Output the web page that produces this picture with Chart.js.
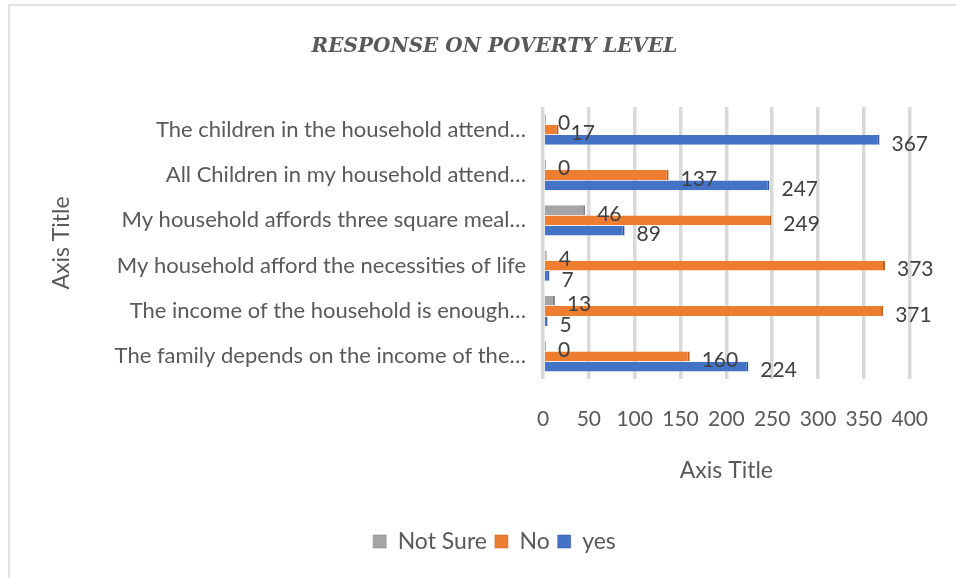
<!DOCTYPE html>
<html><head><meta charset="utf-8">
<script src="https://cdn.jsdelivr.net/npm/chart.js@4"></script>
<style>html,body{margin:0;padding:0;background:#fff}#wrap{width:956px;height:578px}</style>
</head><body><div id="wrap"><canvas id="c" width="956" height="578"></canvas></div>
<script>
const categories = [
  "The children in the household attend\u2026",
  "All Children in my household attend\u2026",
  "My household affords three square meal\u2026",
  "My household afford the necessities of life",
  "The income of the household is enough\u2026",
  "The family depends on the income of the\u2026"
];
const seriesNames = ["Not Sure", "No", "yes"];
const notSure = [0, 0, 46, 4, 13, 0];
const no = [17, 137, 249, 373, 371, 160];
const yes = [367, 247, 89, 7, 5, 224];
const xTickValues = [0, 50, 100, 150, 200, 250, 300, 350, 400];

const colors = ["#A5A5A5", "#ED7D31", "#4472C4"];
const edge = ["#7F7F7F", "#B85F1E", "#2F5597"];
const textColor = "#595959";
const font = "Lato, 'Open Sans', sans-serif";

const borderPlugin = {
  id: 'frame',
  beforeDraw(chart) {
    const ctx = chart.ctx;
    ctx.save();
    ctx.fillStyle = '#fff';
    ctx.fillRect(0, 0, chart.width, chart.height);
    ctx.strokeStyle = '#D9D9D9';
    ctx.lineWidth = 1.5;
    ctx.beginPath();
    ctx.moveTo(9, chart.height);
    ctx.lineTo(9, 5);
    ctx.lineTo(chart.width, 5);
    ctx.stroke();
    ctx.restore();
  }
};

const labelPlugin = {
  id: 'valueLabels',
  afterDatasetsDraw(chart) {
    const ctx = chart.ctx;
    ctx.save();
    ctx.font = "21px " + font;
    ctx.fillStyle = "#404040";
    ctx.textAlign = 'left';
    ctx.textBaseline = 'middle';
    chart.data.datasets.forEach((ds, di) => {
      const meta = chart.getDatasetMeta(di);
      meta.data.forEach((el, i) => {
        ctx.fillText(String(ds.data[i]), el.x + 12, el.y + 4);
      });
    });
    ctx.restore();
  }
};

new Chart(document.getElementById('c'), {
  type: 'bar',
  data: {
    labels: categories,
    datasets: [
      { label: seriesNames[0], data: notSure, backgroundColor: colors[0], borderColor: edge[0], borderWidth: {right: 2}, borderSkipped: false, minBarLength: 3 },
      { label: seriesNames[1], data: no, backgroundColor: colors[1], borderColor: edge[1], borderWidth: {right: 2}, borderSkipped: false },
      { label: seriesNames[2], data: yes, backgroundColor: colors[2], borderColor: edge[2], borderWidth: {right: 2}, borderSkipped: false }
    ]
  },
  options: {
    indexAxis: 'y',
    responsive: false,
    animation: false,
    datasets: { bar: { barPercentage: 0.95, categoryPercentage: 0.68 } },
    layout: { padding: { left: 78, right: 45, top: 0, bottom: 15 } },
    scales: {
      x: {
        min: 0, max: 400,
        afterBuildTicks(scale) { scale.ticks = xTickValues.map(v => ({ value: v })); },
        afterFit(scale) { scale.height = 143; },
        ticks: { color: textColor, font: { family: font, size: 21 }, padding: 28 },
        grid: { color: '#D9D9D9', lineWidth: 3.5, drawTicks: false },
        border: { display: false },
        title: { display: true, text: 'Axis Title', color: textColor, font: { family: font, size: 23 }, padding: { top: 0, bottom: 38 } }
      },
      y: {
        afterFit(scale) { scale.width = 465; },
        ticks: { color: textColor, font: { family: font, size: 22 }, padding: 9 },
        grid: { display: false },
        border: { display: false },
        title: { display: true, text: 'Axis Title', color: textColor, font: { family: font, size: 23 }, padding: { top: -30, bottom: 0 } }
      }
    },
    plugins: {
      title: {
        display: true,
        text: 'RESPONSE ON POVERTY LEVEL',
        color: textColor,
        font: { family: "'DejaVu Serif', serif", size: 20, weight: 'bold', style: 'italic' },
        padding: { top: 35, bottom: 48 }
      },
      legend: {
        position: 'bottom',
        labels: { color: textColor, font: { family: font, size: 23 }, boxWidth: 13, boxHeight: 13, padding: 8 }
      },
      tooltip: { enabled: false }
    }
  },
  plugins: [borderPlugin, labelPlugin]
});
</script>
</body></html>
